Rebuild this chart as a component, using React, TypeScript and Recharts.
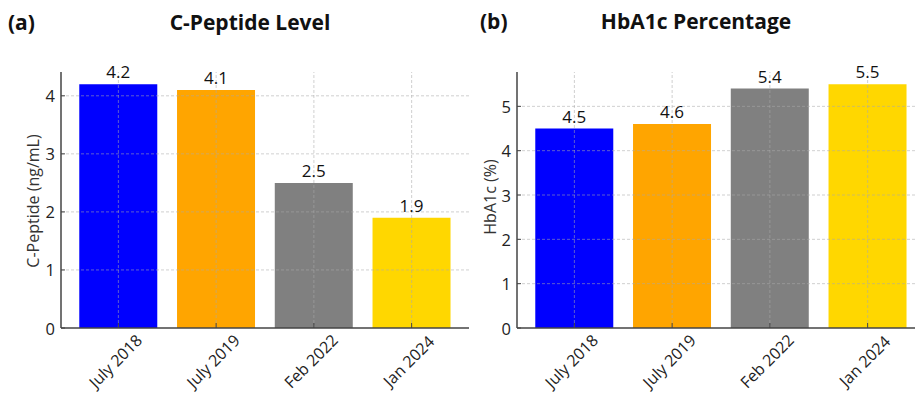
import React from "react";
import { BarChart, Bar, XAxis, YAxis, ReferenceLine, LabelList, Cell } from "recharts";

const categories = ["July 2018", "July 2019", "Feb 2022", "Jan 2024"];
const cPeptide = [4.2, 4.1, 2.5, 1.9];
const hba1c = [4.5, 4.6, 5.4, 5.5];
const barColors = ["#0000FF", "#FFA500", "#808080", "#FFD700"];
const cTicks = [0, 1, 2, 3, 4];
const hTicks = [0, 1, 2, 3, 4, 5];

const cData = categories.map((c, i) => ({ name: c, value: cPeptide[i] }));
const hData = categories.map((c, i) => ({ name: c, value: hba1c[i] }));

const FONT = "'Open Sans', 'Noto Sans', sans-serif";
const AXIS = "#444";
const GRID = "rgba(170,170,170,0.55)";

const XTick = (props: any) => {
  const { x, y, payload } = props;
  return (
    <g transform={`translate(${x},${y})`}>
      <line x1={0} x2={0} y1={-5} y2={0} stroke={AXIS} strokeWidth={1} />
      <text
        transform="translate(-3,33) rotate(-45)"
        textAnchor="middle"
        dominantBaseline="central"
        fontSize={16}
        fill="#222"
        fontFamily={FONT}
      >
        {payload.value}
      </text>
    </g>
  );
};

const YTick = (props: any) => {
  const { x, y, payload } = props;
  return (
    <g transform={`translate(${x},${y})`}>
      <line x1={0} x2={4} y1={0} y2={0} stroke={AXIS} strokeWidth={1} />
      <text x={-6} y={0} textAnchor="end" dominantBaseline="central" fontSize={16.5} fill="#222" fontFamily={FONT}>
        {payload.value}
      </text>
    </g>
  );
};

const Panel = ({ data, max, ticks }: any) => (
  <BarChart
    width={470}
    height={394}
    data={data}
    margin={{ top: 72, right: 1, bottom: 0, left: 0 }}
    barCategoryGap="10%"
  >
    <XAxis
      dataKey="name"
      height={66}
      tickSize={0}
      tickMargin={0}
      tickLine={false}
      tick={<XTick />}
      axisLine={{ stroke: AXIS, strokeWidth: 1.5 }}
      padding={{ left: 8.5, right: 8.5 }}
      interval={0}
    />
    <YAxis
      width={61}
      domain={[0, max]}
      ticks={ticks}
      tickSize={0}
      tickMargin={0}
      tickLine={false}
      tick={<YTick />}
      axisLine={{ stroke: AXIS, strokeWidth: 1.5 }}
      allowDataOverflow
    />
    <Bar dataKey="value" isAnimationActive={false}>
      {data.map((d: any, i: number) => (
        <Cell key={d.name} fill={barColors[i]} />
      ))}
      <LabelList dataKey="value" position="top" offset={6} fill="#111" fontSize={17} fontFamily={FONT} />
    </Bar>
    {ticks.filter((t: number) => t > 0).map((t: number) => (
      <ReferenceLine key={`h${t}`} y={t} stroke={GRID} strokeDasharray="3 2" strokeWidth={1} />
    ))}
    {categories.map((c) => (
      <ReferenceLine key={`v${c}`} x={c} stroke={GRID} strokeDasharray="3 2" strokeWidth={1} />
    ))}
  </BarChart>
);

const titleStyle: React.CSSProperties = {
  position: "absolute",
  top: 8,
  fontSize: 21,
  fontWeight: 700,
  color: "#111",
  textAlign: "center",
};

const yLabelStyle: React.CSSProperties = {
  position: "absolute",
  transform: "translate(-50%,-50%) rotate(-90deg)",
  whiteSpace: "nowrap",
  fontSize: 16,
  color: "#333",
};

export default function App() {
  return (
    <div
      style={{
        position: "absolute",
        left: 0,
        top: 0,
        width: 915,
        height: 394,
        overflow: "hidden",
        background: "#fff",
        fontFamily: FONT,
      }}
    >
      <div style={{ position: "absolute", left: 0, top: 0 }}>
        <Panel data={cData} max={4.41} ticks={cTicks} />
      </div>
      <div style={{ position: "absolute", left: 456, top: 0 }}>
        <Panel data={hData} max={5.775} ticks={hTicks} />
      </div>
      <div style={{ ...titleStyle, left: 8, textAlign: "left" }}>(a)</div>
      <div style={{ ...titleStyle, left: 480, top: 7, textAlign: "left" }}>(b)</div>
      <div style={{ ...titleStyle, left: 140, width: 220 }}>C-Peptide Level</div>
      <div style={{ ...titleStyle, left: 586, width: 220, top: 7 }}>HbA1c Percentage</div>
      <div style={{ ...yLabelStyle, left: 33, top: 201 }}>C-Peptide (ng/mL)</div>
      <div style={{ ...yLabelStyle, left: 490, top: 197 }}>HbA1c (%)</div>
    </div>
  );
}
